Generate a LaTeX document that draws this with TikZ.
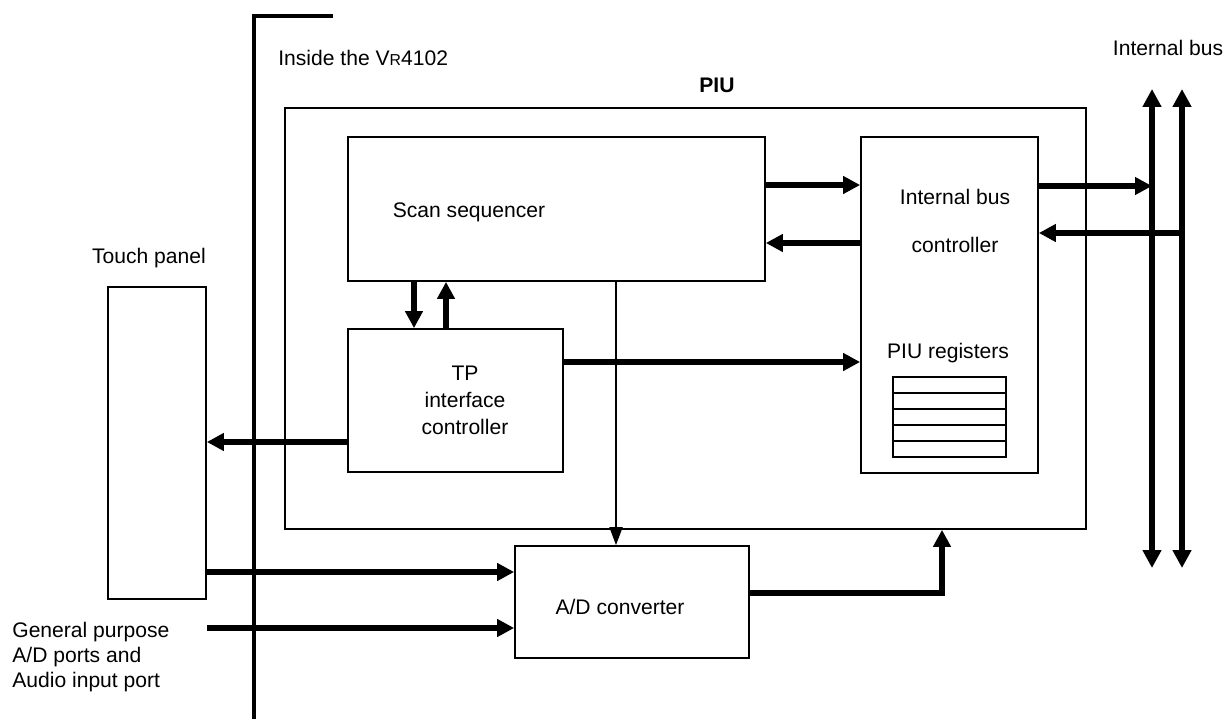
\documentclass[tikz,border=0pt]{standalone}
\usepackage{fontspec}
\setmainfont{Liberation Sans}
\usetikzlibrary{arrows.meta}

\begin{document}
\begin{tikzpicture}[x=0.02cm, y=-0.02cm,
    blk/.style={rectangle, draw, line width=1pt, inner sep=0pt},
    txt/.style={font=\fontsize{12}{14}\selectfont, inner sep=0pt, align=center},
    ar/.style={-{Triangle[length=0.34cm, width=0.34cm]}, line width=3pt},
    bus/.style={{Triangle[length=0.36cm, width=0.36cm]}-{Triangle[length=0.36cm, width=0.36cm]}, line width=3pt},
    thinar/.style={-{Triangle[length=0.36cm, width=0.26cm]}, line width=1pt}]
\useasboundingbox (0,0) rectangle (1227,719);
% chip boundary
\draw[line width=2.3pt] (333,16) -- (254,16) -- (254,719);
\node[txt, anchor=west] (inside) at (278,58) {Inside the V{\fontsize{9}{10}\selectfont R}4102};
% blocks
\node[blk, minimum width=16.02cm, minimum height=8.42cm] (piu) at (685.5,318.5) {};
\node[txt, font=\fontsize{12}{14}\selectfont\bfseries] (piulbl) at (717,85) {PIU};
\node[blk, minimum width=8.34cm, minimum height=2.88cm] (scan) at (556.5,209) {};
\node[txt] (scanlbl) at (469,212) {Scan sequencer};
\node[blk, minimum width=3.54cm, minimum height=6.72cm] (ibc) at (949.5,305) {};
\node[txt] (ibclbla) at (955,197) {Internal bus};
\node[txt] (ibclblb) at (955,245) {controller};
\node[txt] (reglbl) at (948,353) {PIU registers};
\node[blk, minimum width=2.26cm, minimum height=1.6cm] (regs) at (949.5,417) {};
\foreach \k in {1,...,4}
    \draw[line width=1pt] (893,{377+16*\k}) -- (1006,{377+16*\k});
\node[blk, minimum width=4.3cm, minimum height=2.86cm] (tp) at (455.5,400.5) {};
\node[txt, font=\fontsize{12}{15.3}\selectfont] (tplbl) at (465,400) {TP\\interface\\controller};
\node[blk, minimum width=4.68cm, minimum height=2.24cm] (ad) at (632,602) {};
\node[txt] (adlbl) at (620,607) {A/D converter};
\node[blk, minimum width=1.96cm, minimum height=6.24cm] (touch) at (157,443) {};
\node[txt] (touchlbl) at (149,258) {Touch panel};
\node[txt, anchor=west, align=left] (gp) at (12,657) {General purpose\\A/D ports and\\Audio input port};
\coordinate (gpin) at (207,628);
% internal bus
\node[txt] (buslbl) at (1168,48) {Internal bus};
\coordinate (busat) at (1152,89);
\coordinate (busab) at (1152,568);
\coordinate (busbt) at (1182,89);
\coordinate (busbb) at (1182,568);
\draw[bus] (busat) -- (busab);
\draw[bus] (busbt) -- (busbb);
% connections
\draw[ar] (scan.east |- 0,185) -- (ibc.west |- 0,185);
\draw[ar] (ibc.west |- 0,243) -- (scan.east |- 0,243);
\draw[ar] (ibc.east |- 0,186) -- (busat |- 0,186);
\draw[ar] (busbt |- 0,233) -- (ibc.east |- 0,233);
\draw[ar] (scan.south -| 414,0) -- (tp.north -| 414,0);
\draw[ar] (tp.north -| 446,0) -- (scan.south -| 446,0);
\draw[ar] (tp.east |- 0,362) -- (ibc.west |- 0,362);
\draw[ar] (tp.west |- 0,442) -- (touch.east |- 0,442);
\draw[ar] (touch.east |- 0,572) -- (ad.west |- 0,572);
\draw[ar] (gpin) -- (ad.west |- gpin);
\draw[ar] (ad.east |- 0,593) -| (piu.south -| 942,0);
\draw[thinar] (scan.south -| 616,0) -- (ad.north -| 616,0);
\end{tikzpicture}
\end{document}
